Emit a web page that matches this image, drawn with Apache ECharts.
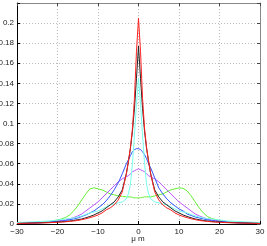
<!DOCTYPE html>
<html><head><meta charset="utf-8">
<script src="https://cdn.jsdelivr.net/npm/echarts@6/dist/echarts.min.js"></script>
<style>html,body{margin:0;padding:0;background:#fff}#c{width:267px;height:246px}</style>
</head><body><div id="c"></div>
<script>
var xs = [-30,-28,-26,-24,-22,-20,-19,-18,-17,-16,-15,-14,-13,-12,-11,-10,-9,-8,-7,-6,-5,-4,-3,-2.5,-2,-1.5,-1,-0.5,0,0.5,1,1.5,2,2.5,3,4,5,6,7,8,9,10,11,12,13,14,15,16,17,18,19,20,22,24,26,28,30];
var red =     [0.0005,0.0007,0.0009,0.0011,0.0013,0.0017,0.0019,0.0022,0.0026,0.003,0.0035,0.0043,0.0052,0.0063,0.0075,0.009,0.011,0.014,0.016,0.019,0.024,0.032,0.05,0.062,0.076,0.095,0.125,0.172,0.205,0.172,0.125,0.095,0.076,0.062,0.05,0.032,0.024,0.019,0.016,0.014,0.011,0.009,0.0075,0.0063,0.0052,0.0043,0.0035,0.003,0.0026,0.0022,0.0019,0.0017,0.0013,0.0011,0.0009,0.0007,0.0005];
var black =   [0.0006,0.0008,0.001,0.0012,0.0015,0.002,0.0022,0.0025,0.003,0.0035,0.0043,0.005,0.0062,0.0075,0.009,0.011,0.013,0.016,0.019,0.022,0.027,0.034,0.05,0.062,0.075,0.092,0.115,0.145,0.177,0.145,0.115,0.092,0.075,0.062,0.05,0.034,0.027,0.022,0.019,0.016,0.013,0.011,0.009,0.0075,0.0062,0.005,0.0043,0.0035,0.003,0.0025,0.0022,0.002,0.0015,0.0012,0.001,0.0008,0.0006];
var cyan =    [0.0015,0.0018,0.0022,0.0026,0.003,0.004,0.0045,0.005,0.0055,0.006,0.007,0.008,0.0095,0.011,0.012,0.013,0.015,0.017,0.019,0.02,0.021,0.022,0.025,0.03,0.039,0.06,0.088,0.12,0.145,0.12,0.088,0.06,0.039,0.03,0.025,0.022,0.021,0.02,0.019,0.017,0.015,0.013,0.012,0.011,0.0095,0.008,0.007,0.006,0.0055,0.005,0.0045,0.004,0.003,0.0026,0.0022,0.0018,0.0015];
var blue =    [0.0006,0.0008,0.001,0.0013,0.0018,0.0025,0.003,0.0035,0.0043,0.005,0.006,0.0075,0.009,0.011,0.013,0.016,0.019,0.023,0.028,0.034,0.041,0.05,0.06,0.064,0.068,0.072,0.074,0.075,0.075,0.074,0.072,0.069,0.065,0.06,0.056,0.046,0.036,0.03,0.025,0.021,0.018,0.015,0.013,0.01,0.0085,0.007,0.006,0.005,0.0042,0.0035,0.003,0.0025,0.0018,0.0013,0.001,0.0008,0.0006];
var magenta = [0.0007,0.0009,0.0012,0.0015,0.002,0.003,0.0035,0.004,0.005,0.0065,0.008,0.01,0.013,0.016,0.019,0.022,0.026,0.03,0.034,0.038,0.042,0.045,0.047,0.048,0.05,0.052,0.053,0.054,0.055,0.054,0.053,0.052,0.05,0.048,0.047,0.045,0.042,0.038,0.034,0.03,0.026,0.022,0.019,0.016,0.013,0.01,0.008,0.0065,0.005,0.004,0.0035,0.003,0.002,0.0015,0.0012,0.0009,0.0007];
var green =   [0.0008,0.001,0.0013,0.0018,0.0025,0.004,0.005,0.0065,0.009,0.013,0.018,0.024,0.03,0.035,0.036,0.035,0.034,0.032,0.03,0.029,0.028,0.0275,0.027,0.027,0.027,0.0265,0.026,0.026,0.026,0.026,0.0265,0.027,0.027,0.027,0.027,0.028,0.029,0.03,0.032,0.034,0.035,0.036,0.0355,0.033,0.028,0.022,0.016,0.011,0.0075,0.0055,0.0045,0.0035,0.0025,0.0018,0.0013,0.001,0.0008];
var xTicks = [-30,-20,-10,0,10,20,30];
var yTicks = [0,0.02,0.04,0.06,0.08,0.1,0.12,0.14,0.16,0.18,0.2];
var xName = '\u03bc m';

function pts(ys){ return xs.map(function(x,i){ return [x, ys[i]]; }); }
function ser(name, ys, color){
  return {name:name, type:'line', data:pts(ys), showSymbol:false, symbol:'none', smooth:false,
          lineStyle:{color:color, width:1}, itemStyle:{color:color}, animation:false, z:3};
}
var chart = echarts.init(document.getElementById('c'), null, {renderer:'canvas'});
var ff = 'Liberation Sans, Arial, sans-serif';
var lab = {fontFamily:ff, fontSize:8, color:'#222'};
chart.setOption({
  animation:false,
  grid:{left:17, right:7, top:3, bottom:22, containLabel:false, outerBoundsMode:'none'},
  graphic:[{type:'text', x:138, y:239, style:{text:xName, font:'8px ' + ff, fill:'#222', align:'center', verticalAlign:'middle'}}],
  xAxis:[{type:'value', min:-30, max:30, interval:10, position:'bottom',
          axisLine:{show:true, onZero:false, lineStyle:{color:'#000', width:1}},
          axisTick:{show:true, inside:true, length:3, lineStyle:{color:'#000'}},
          axisLabel:Object.assign({margin:4, formatter:function(v){ return xTicks.indexOf(v)>=0 ? String(v).replace('-', '\u2212') : ''; }}, lab),
          splitLine:{show:true, lineStyle:{color:'#bbb', type:[1,2], width:1}}},
         {type:'value', min:-30, max:30, interval:10, position:'top',
          axisLine:{show:true, onZero:false, lineStyle:{color:'#888', width:1}},
          axisTick:{show:true, inside:true, length:3, lineStyle:{color:'#444'}},
          axisLabel:{show:false}, splitLine:{show:false}}],
  yAxis:[{type:'value', min:0, max:0.22, interval:0.02, position:'left',
          axisLine:{show:true, onZero:false, lineStyle:{color:'#000', width:1}},
          axisTick:{show:true, inside:true, length:3, lineStyle:{color:'#000'}},
          axisLabel:Object.assign({margin:3, formatter:function(v){ var r=Math.round(v*100)/100; return yTicks.some(function(t){return Math.abs(t-r)<1e-9;}) ? String(r) : ''; }}, lab),
          splitLine:{show:true, lineStyle:{color:'#bbb', type:[1,2], width:1}}},
         {type:'value', min:0, max:0.22, interval:0.02, position:'right',
          axisLine:{show:true, onZero:false, lineStyle:{color:'#888', width:1}},
          axisTick:{show:true, inside:true, length:3, lineStyle:{color:'#444'}},
          axisLabel:{show:false}, splitLine:{show:false}}],
  series:[
    ser('green', green, '#66ee33'),
    ser('magenta', magenta, '#bb55ff'),
    ser('blue', blue, '#3355ff'),
    ser('cyan', cyan, '#77ffee'),
    ser('black', black, '#222222'),
    ser('red', red, '#ff2222')
  ]
});
</script>
</body></html>
